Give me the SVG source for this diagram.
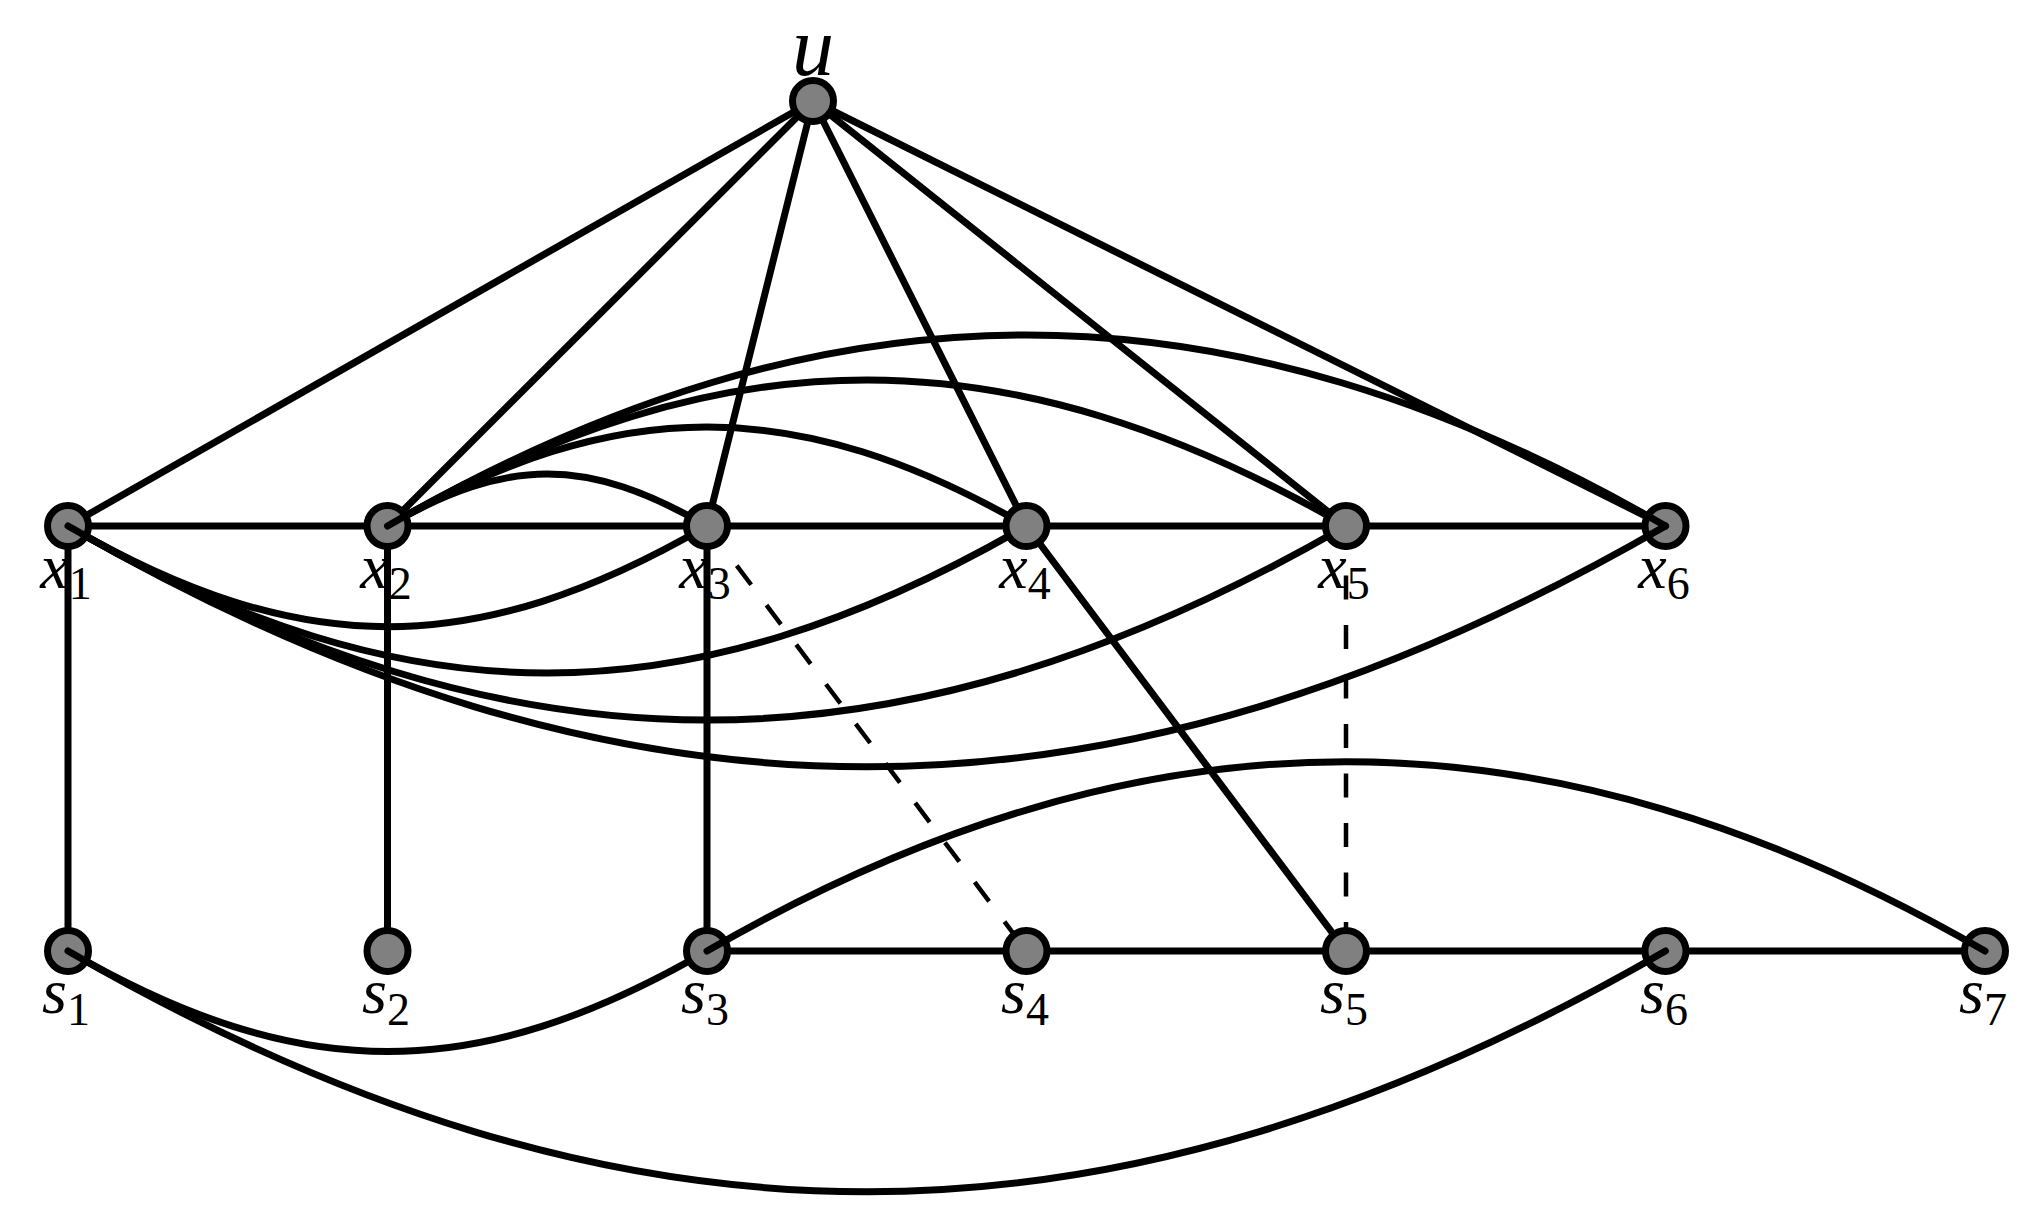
<svg xmlns="http://www.w3.org/2000/svg" width="2035" height="1216" viewBox="0 0 2035 1216">
<style>
.e{fill:none;stroke:#000;stroke-width:7;stroke-linecap:round}
.d{fill:none;stroke:#000;stroke-width:4.5;stroke-dasharray:24 25.5}
.n{fill:#808080;stroke:#000;stroke-width:7}
.l{font-family:"Liberation Serif","DejaVu Serif",serif;font-size:64px;fill:#000}
.m{font-style:italic}
.big{font-size:84px}
.sub{font-size:46px;font-style:normal}
</style>
<rect width="2035" height="1216" fill="#fff"/>
<g id="connectors">
<line class="e" x1="813" y1="101" x2="68" y2="526"/>
<line class="e" x1="813" y1="101" x2="387.5" y2="526"/>
<line class="e" x1="813" y1="101" x2="707" y2="526"/>
<line class="e" x1="813" y1="101" x2="1026.5" y2="526"/>
<line class="e" x1="813" y1="101" x2="1346" y2="526"/>
<line class="e" x1="813" y1="101" x2="1665.5" y2="526"/>
<line class="e" x1="68" y1="526" x2="1665.5" y2="526"/>
<line class="e" x1="68" y1="526" x2="68" y2="951"/>
<line class="e" x1="387.5" y1="526" x2="387.5" y2="951"/>
<line class="e" x1="707" y1="526" x2="707" y2="951"/>
<line class="e" x1="1026.5" y1="526" x2="1346" y2="951"/>
<line class="d" x1="707" y1="526" x2="1026.5" y2="951"/>
<line class="d" x1="1346" y1="526" x2="1346" y2="951"/>
<line class="e" x1="707" y1="951" x2="1985" y2="951"/>
<path class="e" d="M387.5,526 C507.5,456.7 587,456.7 707,526"/>
<path class="e" d="M387.5,526 C616.1,394 797.9,394 1026.5,526"/>
<path class="e" d="M387.5,526 C724.7,331.3 1008.8,331.3 1346,526"/>
<path class="e" d="M68,526 C300.6,660.3 474.4,660.3 707,526"/>
<path class="e" d="M68,526 C407.5,722 687,722 1026.5,526"/>
<path class="e" d="M68,526 C516,784.7 898,784.7 1346,526"/>
<path class="e" d="M68,951 C300,1085 475,1085 707,951"/>
</g>
<g id="node-u"><circle class="n" cx="813" cy="101" r="20.5"/><text class="l m big" x="813" y="75" text-anchor="middle">u</text></g>
<g id="node-x1"><circle class="n" cx="68" cy="526" r="20.5"/><text class="l" x="66" y="588" text-anchor="middle"><tspan class="m">x</tspan><tspan class="sub" dy="11">1</tspan></text></g>
<g id="node-x2"><circle class="n" cx="387.5" cy="526" r="20.5"/><text class="l" x="386" y="588" text-anchor="middle"><tspan class="m">x</tspan><tspan class="sub" dy="11">2</tspan></text></g>
<g id="node-x3"><circle class="n" cx="707" cy="526" r="20.5"/><text class="l" x="705" y="588" text-anchor="middle"><tspan class="m">x</tspan><tspan class="sub" dy="11">3</tspan></text></g>
<g id="node-x4"><circle class="n" cx="1026.5" cy="526" r="20.5"/><text class="l" x="1025" y="588" text-anchor="middle"><tspan class="m">x</tspan><tspan class="sub" dy="11">4</tspan></text></g>
<g id="node-x5"><circle class="n" cx="1346" cy="526" r="20.5"/><text class="l" x="1344" y="588" text-anchor="middle"><tspan class="m">x</tspan><tspan class="sub" dy="11">5</tspan></text></g>
<g id="node-x6"><circle class="n" cx="1665.5" cy="526" r="20.5"/><text class="l" x="1664" y="588" text-anchor="middle"><tspan class="m">x</tspan><tspan class="sub" dy="11">6</tspan></text></g>
<g id="node-s1"><circle class="n" cx="68" cy="951" r="20.5"/><text class="l" x="66" y="1013" text-anchor="middle"><tspan class="m">s</tspan><tspan class="sub" dy="12">1</tspan></text></g>
<g id="node-s2"><circle class="n" cx="387.5" cy="951" r="20.5"/><text class="l" x="386" y="1013" text-anchor="middle"><tspan class="m">s</tspan><tspan class="sub" dy="12">2</tspan></text></g>
<g id="node-s3"><circle class="n" cx="707" cy="951" r="20.5"/><text class="l" x="705" y="1013" text-anchor="middle"><tspan class="m">s</tspan><tspan class="sub" dy="12">3</tspan></text></g>
<g id="node-s4"><circle class="n" cx="1026.5" cy="951" r="20.5"/><text class="l" x="1025" y="1013" text-anchor="middle"><tspan class="m">s</tspan><tspan class="sub" dy="12">4</tspan></text></g>
<g id="node-s5"><circle class="n" cx="1346" cy="951" r="20.5"/><text class="l" x="1344" y="1013" text-anchor="middle"><tspan class="m">s</tspan><tspan class="sub" dy="12">5</tspan></text></g>
<g id="node-s6"><circle class="n" cx="1665.5" cy="951" r="20.5"/><text class="l" x="1664" y="1013" text-anchor="middle"><tspan class="m">s</tspan><tspan class="sub" dy="12">6</tspan></text></g>
<g id="node-s7"><circle class="n" cx="1985" cy="951" r="20.5"/><text class="l" x="1983" y="1013" text-anchor="middle"><tspan class="m">s</tspan><tspan class="sub" dy="12">7</tspan></text></g>
<g id="connectors-over">
<path class="e" d="M387.5,526 C828.6,271.3 1224.4,271.3 1665.5,526"/>
<path class="e" d="M68,526 C624,847 1109.5,847 1665.5,526"/>
<path class="e" d="M68,951 C624,1272 1109.5,1272 1665.5,951"/>
<path class="e" d="M707,951 C1144,698.6 1548,698.6 1985,951"/>
</g>
</svg>
